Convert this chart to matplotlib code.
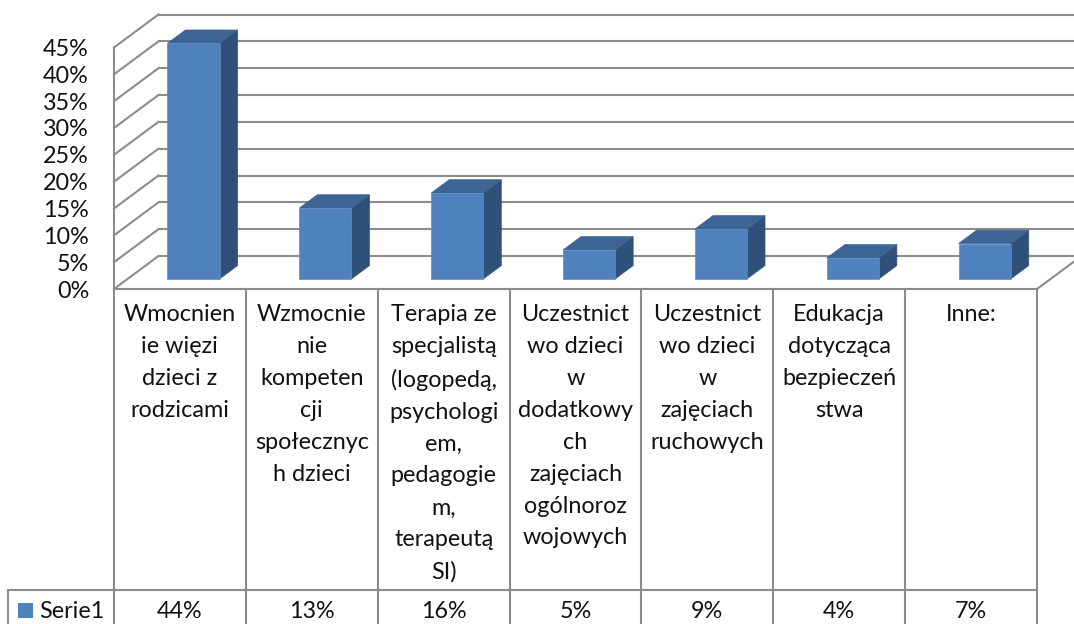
import matplotlib
matplotlib.use("Agg")
import matplotlib.pyplot as plt
from matplotlib.patches import Polygon, Rectangle
from matplotlib.ticker import FuncFormatter

plt.rcParams['font.family'] = ['Lato', 'DejaVu Sans']

categories = [
    "Wmocnien\nie więzi\ndzieci z\nrodzicami",
    "Wzmocnie\nnie\nkompeten\ncji\nspołecznyc\nh dzieci",
    "Terapia ze\nspecjalistą\n(logopedą,\npsychologi\nem,\npedagogie\nm,\nterapeutą\nSI)",
    "Uczestnict\nwo dzieci\nw\ndodatkowy\nch\nzajęciach\nogólnoroz\nwojowych",
    "Uczestnict\nwo dzieci\nw\nzajęciach\nruchowych",
    "Edukacja\ndotycząca\nbezpieczeń\nstwa",
    "Inne:",
]
values = [43.9, 13.2, 16.0, 5.4, 9.3, 3.9, 6.6]
series_name = "Serie1"
y_ticks = [0, 5, 10, 15, 20, 25, 30, 35, 40, 45]

W, H = 1074, 624
GRID = "#8c8c8c"
FRONT, SIDE, TOP = "#4f81bd", "#2f5078", "#3d6493"
FS = 16.8
LW = 1.5

fig = plt.figure(figsize=(W / 100, H / 100), dpi=100)
left, right, base, top = 114, 1037, 289, 47.5
ax = fig.add_axes([left / W, 1 - base / H, (right - left) / W, (base - top) / H])
ax.set_xlim(0, len(values))
ax.set_ylim(0, 45)

cat_px = (right - left) / len(values)
pct_px = (base - top) / 45
DX, DY = 44.5 / cat_px, 33 / pct_px          # depth of the 3D box
bar_w = 0.395
near, far = 0.305, 0.71                      # bar depth as fraction of box

# walls
for v in y_ticks:
    ax.plot([0, DX], [v, v + DY], color=GRID, lw=LW, clip_on=False, zorder=1)
    ax.plot([DX, len(values) + DX], [v + DY, v + DY], color=GRID, lw=LW,
            clip_on=False, zorder=1)
ax.plot([len(values), len(values) + DX], [0, DY], color=GRID, lw=LW, clip_on=False, zorder=1)

# bars
for i, v in enumerate(values):
    x0 = i + 0.5 - bar_w / 2 + near * DX
    x1 = x0 + bar_w
    y0 = near * DY
    ddx, ddy = (far - near) * DX, (far - near) * DY
    ax.add_patch(Rectangle((x0, y0), bar_w, v, fc=FRONT, ec="#5b8cc6", lw=0.5,
                           clip_on=False, zorder=4))
    ax.add_patch(Polygon([(x1, y0), (x1 + ddx, y0 + ddy), (x1 + ddx, y0 + ddy + v), (x1, y0 + v)],
                         fc=SIDE, ec=SIDE, lw=0.5, clip_on=False, zorder=3))
    ax.add_patch(Polygon([(x0, y0 + v), (x0 + ddx, y0 + v + ddy), (x1 + ddx, y0 + v + ddy), (x1, y0 + v)],
                         fc=TOP, ec=TOP, lw=0.5, clip_on=False, zorder=3))

# axes
for s in ("top", "right"):
    ax.spines[s].set_visible(False)
for s in ("left", "bottom"):
    ax.spines[s].set_color(GRID)
    ax.spines[s].set_linewidth(LW)
ax.patch.set_alpha(0)
ax.set_yticks(y_ticks)
ax.yaxis.set_major_formatter(FuncFormatter(lambda v, _: f"{v:.0f}%"))
ax.tick_params(axis="y", length=0, pad=18, labelsize=FS, labelcolor="#111111")
ax.set_xticks([i + 0.5 for i in range(len(values))])
ax.set_xticklabels(categories, fontsize=FS, linespacing=1.64, color="#111111",
                   va="top")
ax.tick_params(axis="x", length=0, pad=11)

# data table grid
def y_of(py):
    return (base - py) / pct_px

def x_of(px):
    return (px - left) / cat_px

row_y = 590
for i in range(len(values) + 1):
    ax.plot([i, i], [0, y_of(H + 2)], color=GRID, lw=LW, clip_on=False, zorder=1)
ax.plot([x_of(8), len(values)], [y_of(row_y)] * 2, color=GRID, lw=LW, clip_on=False)
ax.plot([x_of(8), x_of(8)], [y_of(row_y), y_of(H + 2)], color=GRID, lw=LW, clip_on=False)

for i, v in enumerate(values):
    ax.text(i + 0.5, y_of(612), f"{v:.0f}%", ha="center", va="center",
            fontsize=FS, color="#111111", clip_on=False)

ax.add_patch(Rectangle((x_of(18), y_of(618)), 15 / cat_px, 15 / pct_px, fc=FRONT, ec="none",
                       clip_on=False))
ax.text(x_of(39), y_of(612), series_name, ha="left", va="center", fontsize=FS,
        color="#111111", clip_on=False)

fig.savefig("out.png", dpi=100)
